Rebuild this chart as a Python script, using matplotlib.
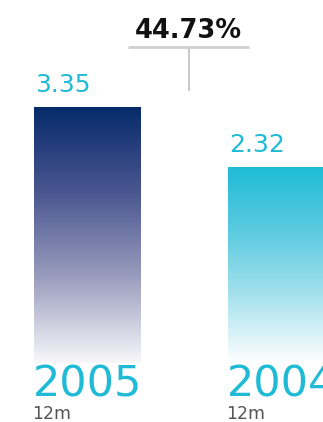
import numpy as np
import matplotlib
matplotlib.use("Agg")
import matplotlib.pyplot as plt
from matplotlib.colors import LinearSegmentedColormap

# yearly totals (12-month figures) and year-on-year change
years = ["2005", "2004"]
values = [3.35, 2.32]
periods = ["12m", "12m"]
change_pct = 44.73

BASE = -1.05          # bars start below zero so the fade has room
X = np.array([0.0, 1.0])
WIDTH = 0.55

NAVY = "#062a6a"
CYAN = "#1fbbd6"
bar_cmaps = [
    LinearSegmentedColormap.from_list("navy", ["#f8f8fb", "#9a9dbd", "#4a5690", NAVY]),
    LinearSegmentedColormap.from_list("cyan", ["#ffffff", "#a8e2ee", "#5ccbe0", CYAN]),
]

fig = plt.figure(figsize=(3.23, 4.22), dpi=100)
ax = fig.add_axes([0, 0, 1, 1])
ax.set_xlim(-0.451, 1.214)
ax.set_ylim(-2.06, 5.18)
ax.axis("off")

bars = ax.bar(X, np.array(values) - BASE, bottom=BASE, width=WIDTH, color="none")
grad = np.linspace(0, 1, 256).reshape(-1, 1)
for b, cmap in zip(bars, bar_cmaps):
    x0, y0 = b.get_x(), b.get_y()
    img = ax.imshow(grad, cmap=cmap, origin="lower", aspect="auto",
                    extent=(x0, x0 + b.get_width(), y0, y0 + b.get_height()),
                    interpolation="bicubic", zorder=1)
    img.set_clip_path(b)

for x, v, yr, per in zip(X, values, years, periods):
    left = x - WIDTH / 2
    ax.text(left + 0.005, v + 0.17, f"{v:.2f}", color=CYAN, fontsize=18,
            ha="left", va="bottom")
    ax.text(left - 0.005, BASE - 0.0, yr, color=CYAN, fontsize=31,
            ha="left", va="top")
    ax.text(left - 0.01, BASE - 0.72, per, color="#555555", fontsize=12.5,
            ha="left", va="top")

# change callout between the two bars
cx = 0.523
top_y = 4.37
ax.plot([cx, cx], [values[0] + 0.27, top_y], color="#c4c4c4", lw=1.3,
        solid_capstyle="butt")
ax.plot([0.208, 0.832], [top_y, top_y], color="#cfcfcf", lw=2,
        solid_capstyle="butt")
ax.text(0.52, top_y + 0.05, f"{change_pct:.2f}%", color="#111111",
        fontsize=18.5, fontweight="bold", ha="center", va="bottom")

fig.savefig("out.png", dpi=100)
